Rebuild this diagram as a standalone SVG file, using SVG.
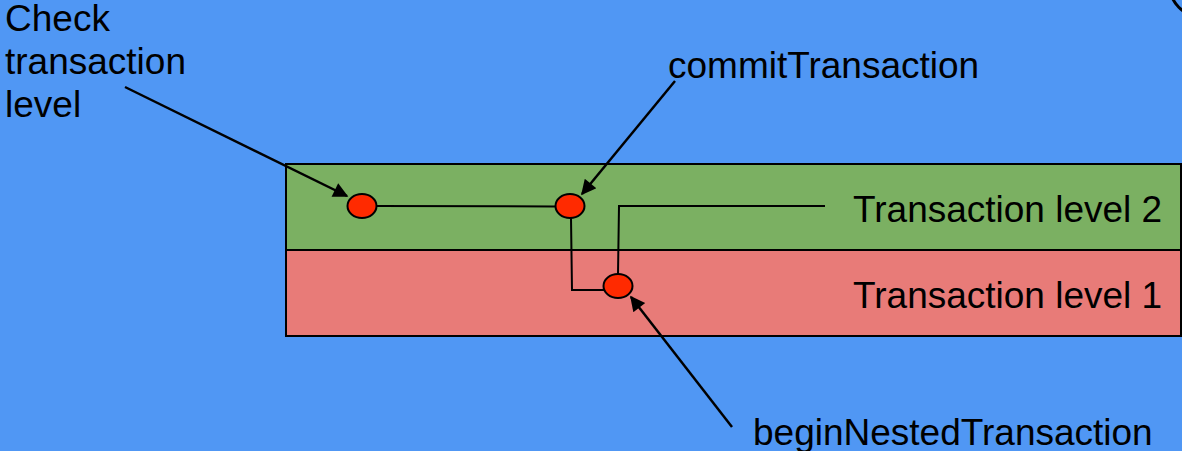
<svg xmlns="http://www.w3.org/2000/svg" width="1182" height="451" viewBox="0 0 1182 451">
<style>
.lbl{font-family:"Liberation Sans",Arial,sans-serif;font-size:37px;fill:#000}
.lane{stroke:#000;stroke-width:2}
.ev{fill:#FF2A00;stroke:#000;stroke-width:2}
.flow{fill:none;stroke:#000;stroke-width:2}
.arr{fill:none;stroke:#000;stroke-width:2.5;marker-end:url(#ah)}
</style>
<defs>
<marker id="ah" viewBox="0 0 10 10" refX="9" refY="5" markerWidth="7" markerHeight="6" markerUnits="strokeWidth" orient="auto">
<path d="M0,0 L10,5 L0,10 z" fill="#000"/>
</marker>
</defs>
<rect width="1182" height="451" fill="#5097F4"/>
<circle cx="1200" cy="-14" r="30" fill="none" stroke="#000" stroke-width="3"/>
<g id="lane2">
<rect class="lane" x="286" y="164" width="895" height="86" fill="#7BB062"/>
<text class="lbl" x="853" y="222">Transaction level 2</text>
</g>
<g id="lane1">
<rect class="lane" x="286" y="250" width="895" height="86" fill="#E87B78"/>
<text class="lbl" x="853" y="308">Transaction level 1</text>
</g>
<g id="connectors">
<path class="flow" d="M377,206 L555,206.5"/>
<path class="flow" d="M571,218 L572,290 L604,290"/>
<path class="flow" d="M618,274 L619,206 L825,206"/>
<line class="arr" x1="125" y1="87" x2="347" y2="196"/>
<line class="arr" x1="675" y1="81" x2="582" y2="194"/>
<line class="arr" x1="732" y1="427" x2="631" y2="297"/>
</g>
<g id="check"><ellipse class="ev" cx="362" cy="206" rx="14.5" ry="12"/></g>
<g id="commit"><ellipse class="ev" cx="570" cy="206" rx="14.5" ry="12"/></g>
<g id="begin"><ellipse class="ev" cx="618" cy="286" rx="14.5" ry="12"/></g>
<g id="label-check">
<text class="lbl" x="5" y="31">Check</text>
<text class="lbl" x="5" y="74">transaction</text>
<text class="lbl" x="5" y="117">level</text>
</g>
<g id="label-commit"><text class="lbl" x="668" y="78">commitTransaction</text></g>
<g id="label-begin"><text class="lbl" x="753" y="445">beginNestedTransaction</text></g>
</svg>
